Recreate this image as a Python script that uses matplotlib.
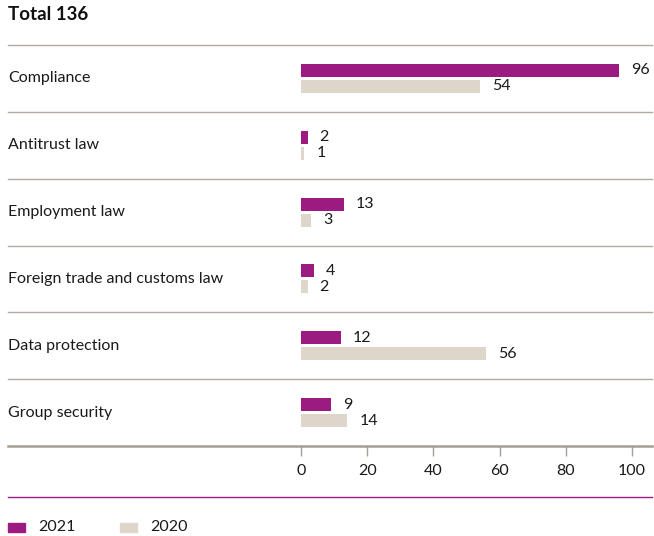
import matplotlib.pyplot as plt
import matplotlib.patches as mpatches

# data
categories = ["Compliance", "Antitrust law", "Employment law",
              "Foreign trade and customs law", "Data protection", "Group security"]
vals_2021 = [96, 2, 13, 4, 12, 9]
vals_2020 = [54, 1, 3, 2, 56, 14]
xticks = [0, 20, 40, 60, 80, 100]

purple = "#9b1b81"
beige = "#ded6ca"
sep = "#b3aaa2"

plt.rcParams['font.family'] = ['Lato', 'DejaVu Sans']

W, H = 654, 536
fig = plt.figure(figsize=(W/100, H/100), dpi=100)
# axes placed in pixel coords: x 301..632 => 0..100, y 45..446
ax = fig.add_axes([301/W, (H-446)/H, (632-301)/W, (446-45)/H])
ax.set_xlim(0, 100)
ax.set_ylim(5.5, -0.5)

n = len(categories)
pos = list(range(n))
bh = 0.195
off = 0.12
ax.barh([p - off for p in pos], vals_2021, height=bh, color=purple)
ax.barh([p + off for p in pos], vals_2020, height=bh, color=beige)

for p, v in zip(pos, vals_2021):
    ax.annotate(str(v), (v, p - off), xytext=(12, 0), textcoords='offset pixels',
                va='center', ha='left', fontsize=11.5, color='#1a1a1a')
for p, v in zip(pos, vals_2020):
    ax.annotate(str(v), (v, p + off), xytext=(12, 0), textcoords='offset pixels',
                va='center', ha='left', fontsize=11.5, color='#1a1a1a')

# row separators, spanning full width
x0 = (8 - 301) / 331
x1 = (652 - 301) / 331
for b in range(n):
    ax.axhline(b - 0.5, xmin=x0, xmax=x1, color=sep, lw=1, clip_on=False)
ax.axhline(n - 0.5, xmin=x0, xmax=x1, color="#a69d94", lw=1.8, clip_on=False)

# category labels
for p, c in zip(pos, categories):
    y_px = H - (45 + (p + 0.5) * (446 - 45) / n)
    fig.text(8/W, y_px/H, c, ha='left', va='center', fontsize=11.5, color='#1a1a1a')

for s in ax.spines.values():
    s.set_visible(False)
ax.set_yticks([])
ax.set_xticks(xticks)
ax.tick_params(axis='x', length=7, width=1, color="#a69d94", labelsize=11.5,
               labelcolor='#1a1a1a', pad=6)

# title
fig.text(8/W, 1 - 15/H, "Total 136", ha='left', va='center', fontsize=13.5,
         fontweight='bold', color='#111111')

# purple rule above legend
fig.add_artist(plt.Line2D([8/W, 652/W], [1 - 497/H, 1 - 497/H], color=purple, lw=1))

# legend
for lx, col, lab in [(8, purple, "2021"), (120, beige, "2020")]:
    fig.add_artist(mpatches.Rectangle((lx/W, 1 - 532/H), 17/W, 9/H, color=col,
                                      transform=fig.transFigure))
    fig.text((lx + 30)/W, 1 - 527/H, lab, ha='left', va='center', fontsize=11.5,
             color='#1a1a1a')

fig.savefig("out.png", dpi=100)
